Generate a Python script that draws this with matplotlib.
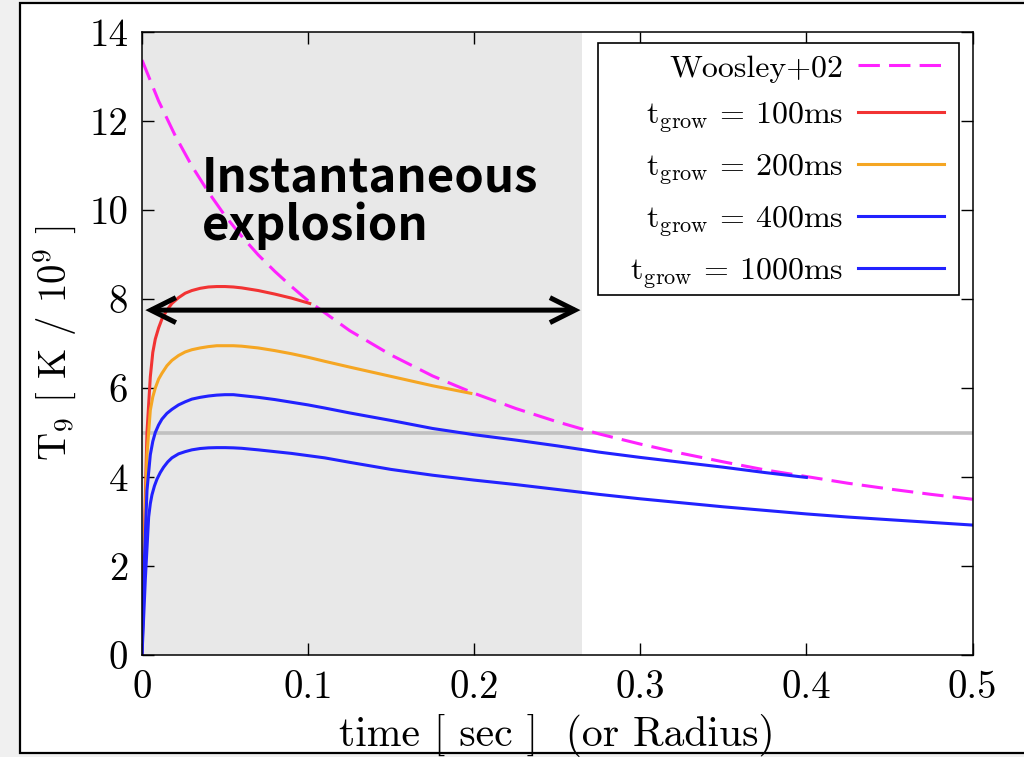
import matplotlib
matplotlib.use("Agg")
import matplotlib.pyplot as plt
from matplotlib.patches import Rectangle

# ---------------- data ----------------
t_woosley = [0.0, 0.01, 0.02, 0.03, 0.04, 0.05, 0.06, 0.07, 0.08, 0.09, 0.10, 0.125, 0.15,
             0.175, 0.20, 0.225, 0.25, 0.275, 0.30, 0.325, 0.35, 0.375, 0.40, 0.425,
             0.45, 0.475, 0.50]
T_woosley = [13.37, 12.45, 11.67, 10.99, 10.40, 9.87, 9.41, 8.99, 8.62, 8.28, 7.96, 7.29, 6.74,
             6.27, 5.88, 5.54, 5.24, 4.97, 4.74, 4.53, 4.34, 4.16, 4.01, 3.86,
             3.73, 3.61, 3.50]

t_100 = [0.0, 0.0015, 0.003, 0.005, 0.0065, 0.008, 0.010, 0.012, 0.015, 0.018, 0.022,
         0.026, 0.030, 0.035, 0.040, 0.045, 0.050, 0.055, 0.060, 0.065, 0.070, 0.080,
         0.090, 0.101]
T_100 = [0.0, 2.8, 5.0, 6.25, 6.8, 7.10, 7.35, 7.55, 7.75, 7.90, 8.03,
         8.13, 8.19, 8.24, 8.27, 8.28, 8.28, 8.27, 8.25, 8.22, 8.19, 8.11,
         8.02, 7.90]

t_200 = [0.0, 0.0015, 0.003, 0.005, 0.0065, 0.008, 0.010, 0.012, 0.015, 0.018, 0.022,
         0.026, 0.030, 0.035, 0.040, 0.045, 0.050, 0.055, 0.060, 0.070, 0.080, 0.090,
         0.100, 0.110, 0.125, 0.150, 0.175, 0.198]
T_200 = [0.0, 2.5, 4.5, 5.5, 5.8, 6.0, 6.2, 6.33, 6.5, 6.62, 6.73,
         6.81, 6.86, 6.90, 6.93, 6.95, 6.95, 6.95, 6.94, 6.90, 6.84, 6.77,
         6.69, 6.60, 6.47, 6.26, 6.05, 5.88]

t_400 = [0.0, 0.0015, 0.003, 0.005, 0.0065, 0.008, 0.010, 0.012, 0.015, 0.018, 0.022,
         0.026, 0.030, 0.035, 0.040, 0.045, 0.050, 0.055, 0.060, 0.070, 0.080, 0.090,
         0.100, 0.110, 0.125, 0.150, 0.175, 0.200, 0.225, 0.250, 0.275, 0.300, 0.325,
         0.350, 0.375, 0.400]
T_400 = [0.0, 2.2, 3.7, 4.5, 4.8, 5.0, 5.17, 5.3, 5.43, 5.52, 5.62,
         5.69, 5.75, 5.79, 5.82, 5.84, 5.85, 5.85, 5.83, 5.79, 5.74, 5.68,
         5.62, 5.55, 5.44, 5.27, 5.09, 4.95, 4.83, 4.70, 4.56, 4.44, 4.33,
         4.22, 4.10, 3.99]

t_1000 = [0.0, 0.002, 0.004, 0.005, 0.006, 0.0075, 0.009, 0.011, 0.013, 0.0155, 0.018,
          0.022, 0.026, 0.030, 0.035, 0.040, 0.045, 0.050, 0.055, 0.060, 0.070, 0.080,
          0.090, 0.100, 0.110, 0.125, 0.150, 0.175, 0.200, 0.225, 0.250, 0.275, 0.300,
          0.325, 0.350, 0.375, 0.400, 0.425, 0.450, 0.475, 0.500]
T_1000 = [0.0, 1.7, 3.1, 3.4, 3.6, 3.8, 3.95, 4.1, 4.22, 4.34, 4.43,
          4.52, 4.57, 4.61, 4.64, 4.655, 4.66, 4.66, 4.655, 4.645, 4.61, 4.57,
          4.53, 4.48, 4.43, 4.33, 4.17, 4.04, 3.93, 3.83, 3.72, 3.61, 3.51,
          3.42, 3.33, 3.25, 3.17, 3.10, 3.04, 2.98, 2.92]

labels = ["Woosley+02",
          r"t$_{\rm grow}$ = 100ms",
          r"t$_{\rm grow}$ = 200ms",
          r"t$_{\rm grow}$ = 400ms",
          r"t$_{\rm grow}$ = 1000ms"]

x_ticks = [0, 0.1, 0.2, 0.3, 0.4, 0.5]
x_ticklabels = ["0", "0.1", "0.2", "0.3", "0.4", "0.5"]
y_ticks = [0, 2, 4, 6, 8, 10, 12, 14]
y_ticklabels = ["0", "2", "4", "6", "8", "10", "12", "14"]

shade_end = 0.265
threshold = 5.0
arrow_T = 7.75

# ---------------- style ----------------
plt.rcParams["font.family"] = ["cmr10", "DejaVu Serif"]
plt.rcParams["mathtext.fontset"] = "cm"
plt.rcParams["axes.formatter.use_mathtext"] = True

W, H = 1024, 757
fig = plt.figure(figsize=(W / 100, H / 100), dpi=100, facecolor="#f0f0f0")

# white panel with black frame
fig.patches.append(Rectangle((20 / W, (H - 753) / H), 1.05, 750 / H,
                             transform=fig.transFigure, facecolor="white",
                             edgecolor="black", lw=1.6, zorder=-10))

ax = fig.add_axes([142 / W, (H - 655) / H, (972.5 - 142) / W, (655 - 32) / H])
ax.set_facecolor("white")

ax.axvspan(0, shade_end, color="#e8e8e8", zorder=0, lw=0)
ax.axhline(threshold, color="#c0c0c0", lw=2.6, zorder=1)

lw = 2.2
ax.plot(t_woosley, T_woosley, color="#ff22ff", lw=lw, dashes=(7, 3), label=labels[0], zorder=2)
ax.plot(t_100, T_100, color="#f23333", lw=lw, label=labels[1], zorder=3)
ax.plot(t_200, T_200, color="#f5a623", lw=lw, label=labels[2], zorder=3)
ax.plot(t_400, T_400, color="#2222ff", lw=lw, label=labels[3], zorder=4)
ax.plot(t_1000, T_1000, color="#2222ff", lw=lw, label=labels[4], zorder=4)

ax.annotate("", xy=(0.002, arrow_T), xytext=(shade_end - 0.001, arrow_T),
            arrowprops=dict(arrowstyle="<->,head_length=0.9,head_width=0.45",
                            lw=3.6, color="black", shrinkA=0, shrinkB=0,
                            mutation_scale=20, joinstyle="miter", capstyle="butt"),
            zorder=6)

ax.text(0.036, 9.33, "Instantaneous\nexplosion", fontsize=34, fontweight="bold",
        family=["Noto Sans CJK JP", "DejaVu Sans"], va="baseline", ha="left",
        linespacing=1.0, zorder=7)

ax.set_xlim(0, 0.5)
ax.set_ylim(0, 14)
ax.set_xticks(x_ticks)
ax.set_xticklabels(x_ticklabels)
ax.set_yticks(y_ticks)
ax.set_yticklabels(y_ticklabels)
ax.tick_params(direction="in", length=8.5, width=1.0, top=True, right=True,
               labelsize=28, colors="black")
ax.tick_params(axis="x", pad=11)
ax.tick_params(axis="y", pad=10)
for s in ax.spines.values():
    s.set_linewidth(1.1)
    s.set_zorder(8)

ax.set_xlabel("time [ sec ]  (or Radius)", fontsize=30, labelpad=6)
ax.set_ylabel(r"T$_9$ [ K / 10$^9$ ]", fontsize=28, labelpad=8)

# legend box (gnuplot-style key with extra left space)
ax.add_patch(Rectangle((598 / W, (H - 295) / H), (959 - 598) / W, (295 - 43) / H,
                       transform=fig.transFigure, facecolor="white",
                       edgecolor="black", lw=1.2, zorder=9))

leg = ax.legend(loc="upper right", bbox_to_anchor=(955 / W, (H - 43) / H),
                bbox_transform=fig.transFigure, borderaxespad=0,
                fontsize=23, markerfirst=False, frameon=False,
                handlelength=2.7, handletextpad=0.45, labelspacing=0.56,
                borderpad=0.35)
leg.set_zorder(10)

fig.savefig("out.png", dpi=100, facecolor=fig.get_facecolor())
